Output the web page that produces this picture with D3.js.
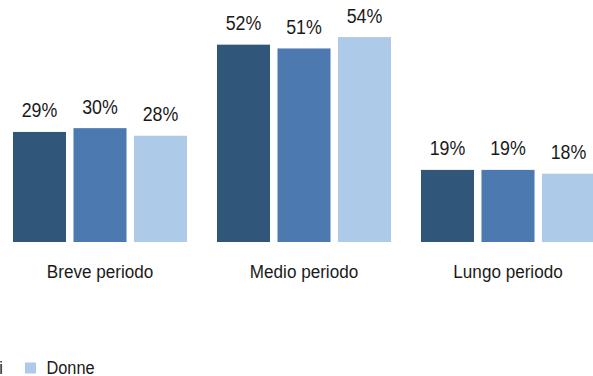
<!DOCTYPE html>
<html>
<head>
<meta charset="utf-8">
<script src="https://cdn.jsdelivr.net/npm/d3@7"></script>
<style>
  html, body { margin: 0; padding: 0; background: #ffffff; overflow: hidden; }
  svg { display: block; }
  text { font-family: "Liberation Sans", Arial, sans-serif; fill: #1a1a1a; }
</style>
</head>
<body>
<svg id="chart" width="593" height="376"></svg>
<script>
// Periods on the x axis
const categories = ["Breve periodo", "Medio periodo", "Lungo periodo"];
// Series names (legend order)
const seriesNames = ["Totale", "Uomini", "Donne"];
// Percentages per series, in category order
const totale = [29, 52, 19];
const uomini = [30, 51, 19];
const donne  = [28, 54, 18];
const seriesColors = ["#30577a", "#4b79b0", "#aecae9"];

// Horizontal squeeze giving the labels a condensed look
const condense = 0.89;

const seriesValues = [totale, uomini, donne];
const rows = categories.map((c, i) => ({
  category: c,
  values: seriesNames.map((s, j) => ({ series: s, value: seriesValues[j][i], color: seriesColors[j] }))
}));

const svg = d3.select("#chart");

const x0 = d3.scaleBand()
  .domain(categories)
  .range([-2, 610])
  .paddingInner(0.147)
  .paddingOuter(0.0735);

const x1 = d3.scaleBand()
  .domain(seriesNames)
  .range([0, x0.bandwidth()])
  .paddingInner(0.124)
  .paddingOuter(0);

const y = d3.scaleLinear()
  .domain([0, 60])
  .range([242, 14.3]);

const groups = svg.append("g")
  .selectAll("g")
  .data(rows)
  .join("g")
  .attr("transform", d => `translate(${x0(d.category)},0)`);

groups.selectAll("rect")
  .data(d => d.values)
  .join("rect")
  .attr("x", d => x1(d.series))
  .attr("y", d => y(d.value))
  .attr("width", x1.bandwidth())
  .attr("height", d => y(0) - y(d.value))
  .attr("fill", d => d.color);

groups.selectAll("text.value")
  .data(d => d.values)
  .join("text")
  .attr("class", "value")
  .attr("transform", d => `translate(${x1(d.series) + x1.bandwidth() / 2},${y(d.value) - 14.5}) scale(${condense},1)`)
  .attr("text-anchor", "middle")
  .attr("font-size", 20)
  .text(d => d.value + "%");

// Category axis labels, no axis line
const xAxis = d3.axisBottom(x0).tickSize(0).tickPadding(0);
const axisG = svg.append("g")
  .attr("transform", "translate(0,242)")
  .call(xAxis);
axisG.select(".domain").remove();
axisG.attr("font-family", null).attr("font-size", null);
axisG.selectAll("text")
  .attr("dy", null)
  .attr("y", null)
  .attr("transform", `translate(0,35.5) scale(${condense + 0.01},1)`)
  .attr("font-size", 19)
  .attr("fill", "#1a1a1a");

// Legend along the bottom, laid out so its last entry sits at the left edge
const legendScale = 0.86;
const legend = svg.append("g").attr("transform", "translate(0,374)");
const items = legend.selectAll("g")
  .data(seriesNames.map((s, j) => ({ name: s, color: seriesColors[j] })))
  .join("g");
items.append("rect")
  .attr("width", 11).attr("height", 11)
  .attr("y", -11.5)
  .attr("fill", d => d.color);
items.append("text")
  .attr("transform", `translate(21.5,0) scale(${legendScale},1)`)
  .attr("font-size", 19)
  .text(d => d.name);
const widths = [];
items.each(function () {
  widths.push(21.5 + this.querySelector("text").getComputedTextLength() * legendScale);
});
const gap = 22;
const lastX = 25;
const pos = [];
let acc = lastX;
for (let i = widths.length - 1; i >= 0; i--) {
  pos[i] = acc;
  if (i > 0) acc -= widths[i - 1] + gap;
}
items.attr("transform", (d, i) => `translate(${pos[i]},0)`);
</script>
</body>
</html>
